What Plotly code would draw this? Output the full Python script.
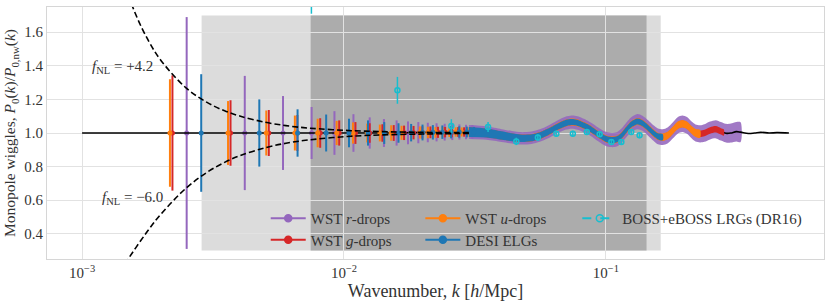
import plotly.graph_objects as go

# ---------------- data ----------------
# model wiggle curve P0/P0,nw
K_WIG = [0.001, 0.005, 0.01, 0.015, 0.02, 0.025, 0.03, 0.035, 0.04, 0.045, 0.048, 0.052, 0.056, 0.06,
         0.065, 0.07, 0.074, 0.078, 0.085, 0.09, 0.095, 0.1, 0.105, 0.11, 0.115, 0.12, 0.125, 0.132,
         0.138, 0.145, 0.152, 0.158, 0.165, 0.172, 0.18, 0.188, 0.196, 0.204, 0.212, 0.22, 0.229, 0.238,
         0.25, 0.263, 0.275, 0.282, 0.29, 0.3, 0.315, 0.327, 0.35, 0.37, 0.39, 0.42, 0.45, 0.5]
Y_WIG = [1.0, 1.0, 1.0, 1.0, 1.003, 1.005, 1.006, 1.0, 0.985, 0.972, 0.968, 0.972, 0.985, 1.005,
         1.035, 1.058, 1.065, 1.06, 1.035, 1.01, 0.985, 0.965, 0.958, 0.962, 0.985, 1.02, 1.05, 1.068,
         1.058, 1.03, 1.0, 0.98, 0.975, 0.985, 1.015, 1.045, 1.055, 1.045, 1.02, 1.0, 0.995, 1.0,
         1.015, 1.022, 1.01, 1.003, 0.998, 1.0, 1.008, 1.005, 0.997, 1.0, 1.004, 1.0, 1.002, 1.0]

# f_NL curves
K_FNL = [0.0012, 0.0014, 0.0016, 0.0018, 0.002, 0.0025, 0.003, 0.0035, 0.004, 0.005, 0.006, 0.007,
         0.008, 0.01, 0.012, 0.015, 0.02, 0.03]
Y_FNL_POS = [2.39, 1.963, 1.708, 1.544, 1.432, 1.267, 1.182, 1.132, 1.101, 1.064, 1.044, 1.032,
             1.025, 1.016, 1.011, 1.007, 1.004, 1.002]
Y_FNL_NEG = [0.048, 0.182, 0.315, 0.427, 0.517, 0.673, 0.766, 0.825, 0.865, 0.912, 0.939, 0.955,
             0.965, 0.978, 0.985, 0.990, 0.994, 0.998]

# WST r-drops (discrete bins)
K_R = [0.002508, 0.00418, 0.005852, 0.007524, 0.009196, 0.010868, 0.01254, 0.014212, 0.015884,
       0.017556, 0.019228, 0.0209, 0.022572, 0.024244, 0.025916, 0.027588, 0.02926, 0.030932]
Y_R = [1.0, 1.0, 1.0, 1.0, 1.0, 1.0, 1.0, 1.0, 1.0, 1.001, 1.002, 1.003, 1.004, 1.005, 1.005, 1.006, 1.006, 1.006]
E_R = [0.69, 0.34, 0.22, 0.155, 0.13, 0.112, 0.093, 0.083, 0.075, 0.068, 0.063, 0.058, 0.054, 0.05,
       0.047, 0.045, 0.043, 0.041]
# WST g-drops
K_G = [0.002213, 0.003688, 0.005163, 0.006638, 0.008113, 0.009588, 0.011063, 0.012538, 0.014013,
       0.015488, 0.016963, 0.018438, 0.019913, 0.021388, 0.022863, 0.024338, 0.025813, 0.027288,
       0.028763, 0.030238]
Y_G = [1.0, 1.0, 1.0, 1.0, 1.0, 1.0, 1.0, 1.0, 1.0, 1.0, 1.001, 1.002, 1.003, 1.004, 1.004, 1.005,
       1.005, 1.006, 1.006, 1.006]
E_G = [0.343, 0.195, 0.137, 0.107, 0.088, 0.075, 0.065, 0.058, 0.052, 0.047, 0.043, 0.04, 0.037,
       0.035, 0.033, 0.031, 0.03, 0.029, 0.028, 0.027]
# WST u-drops
K_U = [0.002165, 0.003608, 0.005051, 0.006494, 0.007937, 0.00938, 0.010823, 0.012266, 0.013709,
       0.015152, 0.016595, 0.018038, 0.019481, 0.020924, 0.022367, 0.02381, 0.025253, 0.026696,
       0.028139, 0.029582, 0.031025]
Y_U = [1.0, 1.0, 1.0, 1.0, 1.0, 1.0, 1.0, 1.0, 1.0, 1.0, 1.001, 1.002, 1.003, 1.003, 1.004, 1.005,
       1.005, 1.006, 1.006, 1.006, 1.006]
E_U = [0.32, 0.19, 0.134, 0.104, 0.085, 0.072, 0.063, 0.056, 0.05, 0.046, 0.042, 0.039, 0.036, 0.034,
       0.032, 0.031, 0.029, 0.028, 0.027, 0.026, 0.025]
# DESI ELGs
K_D = [0.00285, 0.00475, 0.00665, 0.00855, 0.01045, 0.01235, 0.01425, 0.01615, 0.01805, 0.01995,
       0.02185, 0.02375, 0.02565, 0.02755, 0.02945, 0.03135]
Y_D = [1.0, 1.0, 1.0, 1.0, 1.0, 1.0, 1.0, 1.0, 1.002, 1.003, 1.004, 1.005, 1.005, 1.006, 1.006, 1.006]
E_D = [0.35, 0.2, 0.141, 0.11, 0.085, 0.075, 0.065, 0.058, 0.052, 0.047, 0.043, 0.04, 0.037, 0.034,
       0.032, 0.03]

# dense high-k part, shown as bands around the wiggle curve (nodes = K_WIG[6:50])
S_R = [0.042, 0.04, 0.038, 0.037, 0.037, 0.037, 0.037, 0.038, 0.038, 0.039, 0.039, 0.04, 0.04, 0.041,
       0.041, 0.042, 0.042, 0.043, 0.043, 0.044, 0.044, 0.045, 0.045, 0.046, 0.046, 0.047, 0.047, 0.048,
       0.048, 0.049, 0.049, 0.05, 0.05, 0.051, 0.051, 0.052, 0.053, 0.054, 0.055, 0.055, 0.056, 0.057,
       0.058, 0.059]
S_G = [0.027, 0.025, 0.023, 0.022, 0.021, 0.021, 0.02, 0.02, 0.02, 0.019, 0.019, 0.019, 0.019, 0.019,
       0.019, 0.019, 0.019, 0.019, 0.019, 0.019, 0.019, 0.019, 0.019, 0.019, 0.019, 0.019, 0.019, 0.019,
       0.019, 0.019, 0.019, 0.019, 0.019, 0.019, 0.019, 0.019, 0.019, 0.019, 0.019, 0.019,
       None, None, None, None]
S_U = [0.026, 0.024, 0.023, 0.022, 0.022, 0.021, 0.021, 0.021, 0.021, 0.021, 0.021, 0.021, 0.021, 0.021,
       0.021, 0.021, 0.021, 0.021, 0.021, 0.021, 0.021, 0.021, 0.021, 0.022, 0.022, 0.022, 0.022, 0.022,
       0.022, 0.023, 0.023, 0.023, 0.023, 0.024, 0.024] + [None] * 9
S_D = [0.03, 0.027, 0.025, 0.023, 0.022, 0.021, 0.02, 0.02, 0.019, 0.019, 0.018, 0.018, 0.018, 0.018,
       0.018, 0.018, 0.018, 0.018, 0.018, 0.018, 0.018, 0.018, 0.018, 0.018, 0.018, 0.018, 0.018] + [None] * 17

# BOSS+eBOSS LRGs (DR16)
K_BOSS = [0.00751, 0.016, 0.0257, 0.0355, 0.0455, 0.055, 0.0647, 0.0748, 0.0846, 0.0947, 0.105,
          0.1146, 0.125, 0.1345]
Y_BOSS = [2.0, 1.254, 1.042, 1.036, 0.95, 0.973, 0.996, 0.996, 1.006, 0.992, 0.946, 0.946, 1.006, 0.986]
E_BOSS = [0.29, 0.08, 0.04, 0.03, 0.022, 0.02, 0.018, 0.017, 0.016, 0.016, 0.016, 0.016, 0.016, 0.017]

# shaded k-ranges
K_LIGHT = [0.00286, 0.162]
K_DARK = [0.00746, 0.143]
Y_SHADE = [0.3, 1.7]

X_TICKS = [0.001, 0.01, 0.1]
X_TICKTEXT = ["10<sup>\u22123</sup>", "10<sup>\u22122</sup>", "10<sup>\u22121</sup>"]
Y_TICKS = [0.4, 0.6, 0.8, 1.0, 1.2, 1.4, 1.6]

C_R, C_G, C_U, C_D, C_B = "#9467bd", "#d62728", "#ff7f0e", "#1f77b4", "#17becf"
FONT = "'Liberation Serif', 'DejaVu Serif', serif"
TXT = "#333333"

fig = go.Figure()

BAND_START = 6
K_BAND = K_WIG[BAND_START:BAND_START + 44]
Y_BAND = Y_WIG[BAND_START:BAND_START + 44]


def add_band(sig, color):
    ks = [k for k, s in zip(K_BAND, sig) if s is not None]
    up = [y + s for y, s in zip(Y_BAND, sig) if s is not None]
    lo = [y - s for y, s in zip(Y_BAND, sig) if s is not None]
    fig.add_trace(go.Scatter(x=ks + ks[::-1], y=up + lo[::-1], fill="toself", fillcolor=color,
                             mode="lines", line=dict(width=0, shape="spline", smoothing=0.8),
                             hoverinfo="skip", showlegend=False))


def add_bars(k, y, e, color):
    fig.add_trace(go.Scatter(x=k, y=y, mode="markers", marker=dict(color=color, size=5),
                             error_y=dict(type="data", array=e, color=color, thickness=2, width=0),
                             showlegend=False))


add_band(S_R, "rgba(148,103,189,0.88)")
add_bars(K_R, Y_R, E_R, C_R)
fig.add_trace(go.Scatter(x=K_WIG, y=Y_WIG, mode="lines", line=dict(color="black", width=1.6, shape="spline"),
                         showlegend=False))
add_band(S_G, C_G)
add_bars(K_G, Y_G, E_G, C_G)
add_band(S_U, C_U)
add_bars(K_U, Y_U, E_U, C_U)
add_band(S_D, C_D)
add_bars(K_D, Y_D, E_D, C_D)
for yy in (Y_FNL_POS, Y_FNL_NEG):
    fig.add_trace(go.Scatter(x=K_FNL, y=yy, mode="lines",
                             line=dict(color="black", width=1.6, dash="6px,3px", shape="spline"),
                             showlegend=False))
fig.add_trace(go.Scatter(x=K_BOSS, y=Y_BOSS, mode="markers",
                         marker=dict(color=C_B, size=5, symbol="circle-open", line=dict(width=1.5, color=C_B)),
                         error_y=dict(type="data", array=E_BOSS, color=C_B, thickness=1.5, width=0),
                         showlegend=False))

# legend: one small legend per entry, arranged in 3 columns x 2 rows
LEG = [("WST <i>r</i>-drops", C_R, "legend", "solid", "circle", 0.2815, 0.2262),
       ("WST <i>g</i>-drops", C_G, "legend2", "solid", "circle", 0.2815, 0.1405),
       ("WST <i>u</i>-drops", C_U, "legend3", "solid", "circle", 0.4805, 0.2262),
       ("DESI ELGs", C_D, "legend4", "solid", "circle", 0.4805, 0.1405),
       ("BOSS+eBOSS LRGs (DR16)", C_B, "legend5", "dash", "circle-open", 0.6825, 0.2262)]
legfont = dict(family=FONT, size=15, color=TXT)
leg_layout = {}
for name, col, lg, dash, sym, lx, ly in LEG:
    fig.add_trace(go.Scatter(x=[None], y=[None], mode="lines+markers", name=name, legend=lg,
                             line=dict(color=col, width=2, dash=dash),
                             marker=dict(color=col, size=7, symbol=sym, line=dict(color=col, width=1.5))))
    leg_layout[lg] = dict(x=lx, y=ly, xanchor="left", yanchor="top", bgcolor="rgba(0,0,0,0)",
                          font=legfont, itemwidth=35, tracegroupgap=0)

fig.add_shape(type="rect", xref="x", yref="y", x0=K_LIGHT[0], x1=K_LIGHT[1], y0=Y_SHADE[0], y1=Y_SHADE[1],
              fillcolor="#dcdcdc", line=dict(width=0), layer="below")
fig.add_shape(type="rect", xref="x", yref="y", x0=K_DARK[0], x1=K_DARK[1], y0=Y_SHADE[0], y1=Y_SHADE[1],
              fillcolor="#acacac", line=dict(width=0), layer="below")

fig.add_annotation(x=0.0553, y=0.762, xref="paper", yref="paper", showarrow=False, xanchor="left",
                   yanchor="middle", text="<i>f</i><sub>NL</sub> = +4.2",
                   font=dict(family=FONT, size=15, color=TXT))
fig.add_annotation(x=0.0682, y=0.242, xref="paper", yref="paper", showarrow=False, xanchor="left",
                   yanchor="middle", text="<i>f</i><sub>NL</sub> = \u22126.0",
                   font=dict(family=FONT, size=15, color=TXT))

fig.update_layout(
    width=831, height=301,
    margin=dict(l=47, r=7, t=7, b=42, autoexpand=False),
    paper_bgcolor="white", plot_bgcolor="white",
    font=dict(family=FONT, size=15, color=TXT),
    xaxis=dict(type="log", range=[-3.134, -0.167], tickvals=X_TICKS, ticktext=X_TICKTEXT,
               showgrid=True, gridcolor="#e2e2e2", gridwidth=1, showline=True, linecolor="#d6d6d6",
               mirror=True, zeroline=False, ticks="", automargin=False,
               title=dict(text="Wavenumber, <i>k</i> [<i>h</i>/Mpc]", standoff=2)),
    yaxis=dict(range=[0.25, 1.75], tickvals=Y_TICKS, tickformat=".1f",
               showgrid=True, gridcolor="#e2e2e2", gridwidth=1, showline=True, linecolor="#d6d6d6",
               mirror=True, zeroline=False, ticks="", automargin=False,
               title=dict(text="Monopole wiggles, <i>P</i><sub>0</sub>(<i>k</i>)/<i>P</i><sub>0,nw</sub>(<i>k</i>)",
                          standoff=4, font=dict(size=15.5))),
    **leg_layout,
)

fig.write_html("out.html", config={"displayModeBar": False},
               post_script="document.body.style.margin='0';document.body.style.padding='0';")
